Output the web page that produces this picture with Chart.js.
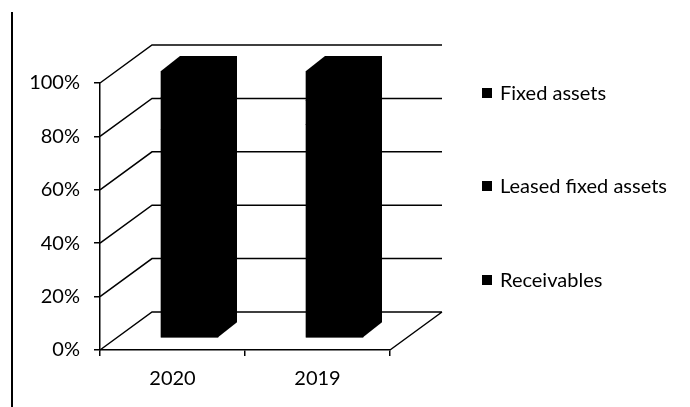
<!DOCTYPE html>
<html>
<head>
<meta charset="utf-8">
<script src="https://cdn.jsdelivr.net/npm/chart.js@4.4.1/dist/chart.umd.min.js"></script>
<style>
  body { margin: 0; background: #fff; }
  #wrap { position: relative; width: 690px; height: 407px; }
  #frame { position: absolute; left: 11px; top: 12px; height: 395px; border-left: 2px solid #000; }
  .legend-item { position: absolute; left: 482px; font: 20px Lato, sans-serif; color: #000; line-height: 22px; white-space: nowrap; }
  .legend-item span { display: inline-block; width: 10px; height: 10px; background: #000; margin-right: 8px; vertical-align: 2px; }
</style>
</head>
<body>
<div id="wrap">
  <div id="frame"></div>
  <canvas id="assetsChart" width="690" height="407"></canvas>
  <div id="legend"></div>
</div>
<script>
const years = ['2020', '2019'];
const seriesNames = ['Fixed assets', 'Leased fixed assets', 'Receivables'];
// shares in % (all series are drawn black in the original, so the split is estimated)
const fixedAssets = [78, 80];
const leasedFixedAssets = [12, 9];
const receivables = [10, 11];
const yTicks = [0, 20, 40, 60, 80, 100];

// fake 3d: bars sit a little behind the front axis, back wall further behind
const BAR_SHIFT = { x: 17, y: -12 };
const BAR_DEPTH = { x: 19, y: -15 };
const WALL_SHIFT = { x: 52, y: -38 };

const wallPlugin = {
    id: 'wall3d',
    beforeDatasetsDraw(chart) {
        const ctx = chart.ctx;
        const area = chart.chartArea;
        const y = chart.scales.y;
        ctx.save();
        ctx.strokeStyle = '#000';
        ctx.lineWidth = 1.5;
        ctx.beginPath();
        yTicks.forEach(v => {
            const py = y.getPixelForValue(v);
            ctx.moveTo(area.left, py);
            ctx.lineTo(area.left + WALL_SHIFT.x, py + WALL_SHIFT.y);
            ctx.lineTo(area.right + WALL_SHIFT.x, py + WALL_SHIFT.y);
        });
        // floor right edge
        ctx.moveTo(area.right, area.bottom);
        ctx.lineTo(area.right + WALL_SHIFT.x, area.bottom + WALL_SHIFT.y);
        ctx.stroke();

        // bars are drawn shifted towards the back
        ctx.translate(BAR_SHIFT.x, BAR_SHIFT.y);
        ctx.fillStyle = '#000';
        years.forEach((yr, i) => {
            let top = Infinity, bottom = -Infinity, x = 0, w = 0;
            chart.data.datasets.forEach((ds, d) => {
                const bar = chart.getDatasetMeta(d).data[i];
                top = Math.min(top, bar.y, bar.base);
                bottom = Math.max(bottom, bar.y, bar.base);
                x = bar.x;
                w = bar.width;
            });
            const L = x - w / 2, R = x + w / 2;
            ctx.beginPath();
            ctx.moveTo(L, top);
            ctx.lineTo(L + BAR_DEPTH.x, top + BAR_DEPTH.y);
            ctx.lineTo(R + BAR_DEPTH.x, top + BAR_DEPTH.y);
            ctx.lineTo(R + BAR_DEPTH.x, bottom + BAR_DEPTH.y);
            ctx.lineTo(R, bottom);
            ctx.lineTo(L, bottom);
            ctx.closePath();
            ctx.fill();
        });
    },
    afterDatasetsDraw(chart) {
        chart.ctx.restore();
    }
};

const ctx = document.getElementById('assetsChart').getContext('2d');
new Chart(ctx, {
    type: 'bar',
    data: {
        labels: years,
        datasets: [
            { label: seriesNames[0], data: fixedAssets, backgroundColor: '#000' },
            { label: seriesNames[1], data: leasedFixedAssets, backgroundColor: '#000' },
            { label: seriesNames[2], data: receivables, backgroundColor: '#000' }
        ]
    },
    options: {
        responsive: false,
        animation: false,
        barThickness: 57,
        layout: { padding: { top: 83, right: 300, left: 0, bottom: 0 } },
        plugins: {
            legend: { display: false },
            tooltip: { enabled: false }
        },
        scales: {
            x: {
                stacked: true,
                afterFit(scale) { scale.height = 57; },
                border: { display: true, color: '#000', width: 1.5 },
                grid: { drawOnChartArea: false, drawTicks: true, tickLength: 6, color: '#000', lineWidth: 1.5 },
                ticks: { color: '#000', padding: 11, font: { family: 'Lato', size: 20 } }
            },
            y: {
                stacked: true,
                min: 0,
                max: 100,
                afterFit(scale) { scale.width = 100; },
                border: { display: true, color: '#000', width: 1.5 },
                grid: { drawOnChartArea: false, drawTicks: true, tickLength: 6, color: '#000', lineWidth: 1.5 },
                ticks: {
                    stepSize: 20,
                    color: '#000',
                    padding: 14,
                    font: { family: 'Lato', size: 20 },
                    callback: v => v + '%'
                }
            }
        }
    },
    plugins: [wallPlugin]
});

// legend on the right, one item per series
const legendTops = [81, 174, 268];
const legend = document.getElementById('legend');
seriesNames.forEach((name, i) => {
    const item = document.createElement('div');
    item.className = 'legend-item';
    item.style.top = legendTops[i] + 'px';
    item.innerHTML = '<span></span>' + name;
    legend.appendChild(item);
});
</script>
</body>
</html>
